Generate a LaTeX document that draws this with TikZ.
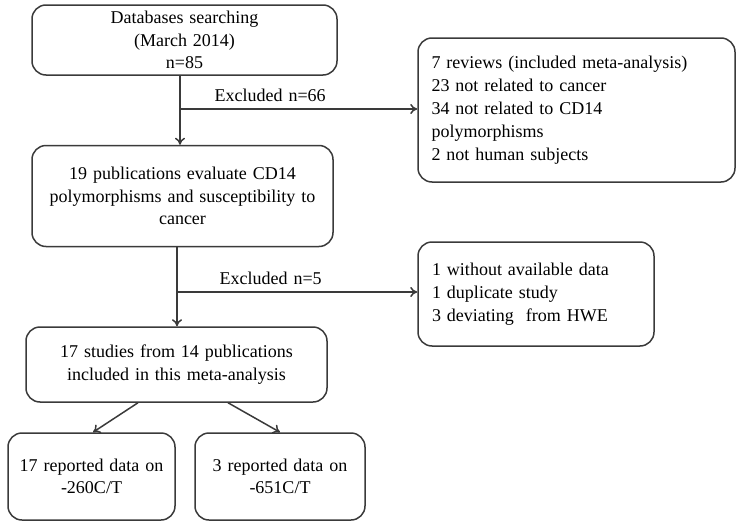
\documentclass[tikz,border=0pt]{standalone}
\usepackage{fontspec}
\setmainfont{Liberation Serif}
\usetikzlibrary{arrows.meta}
\definecolor{linegray}{HTML}{3A3A3A}
\newcommand\flowfont[1]{\fontsize{18}{#1}\selectfont\spaceskip=0.33em plus 0.1em\relax}
\begin{document}
\begin{tikzpicture}[
    x=1pt, y=-1pt,
    node/.style={%
      draw=linegray,
      line width=1.5pt,
      rectangle,
      rounded corners=14pt,
      align=center,
      inner sep=0pt,
      font=\flowfont{22.5},
    },
    list/.style={%
      node,
      align=left,
      font=\flowfont{23},
    },
    flow/.style={%
      draw=linegray,
      line width=1.5pt,
      -{To[length=7pt,width=10pt]},
    },
    lbl/.style={%
      font=\flowfont{22},
      inner sep=0pt,
    },
  ]
    \useasboundingbox (0,0) rectangle (740,525);
    \node [node, minimum width=305pt, minimum height=70pt] (search) at (184.5,40)
      {Databases searching\\(March 2014)\\n=85};
    \path (search) ++(-2,156) node [node, minimum width=301pt, minimum height=101pt] (pubs)
      {19 publications evaluate CD14\\polymorphisms and susceptibility to\\cancer};
    \path (search) ++(392,70) node [list, minimum width=317pt, minimum height=144pt,
      text width=290pt] (exclA)
      {7 reviews (included meta-analysis)\\23 not related to cancer\\34 not related to CD14\\polymorphisms\\2 not human subjects};
    \path (pubs) ++(353.5,98) node [list, minimum width=236pt, minimum height=104pt,
      text width=208pt] (exclB)
      {1 without available data\\1 duplicate study\\3 deviating \ from HWE};
    \path (pubs) ++(-6,168.5) node [node, minimum width=301pt, minimum height=75pt] (meta)
      {17 studies from 14 publications\\included in this meta-analysis};
    \path (meta) ++(-85,112) node [node, minimum width=167pt, minimum height=87pt] (snpA)
      {17 reported data on\\-260C/T};
    \path (meta) ++(103.5,112) node [node, minimum width=170pt, minimum height=87pt] (snpB)
      {3 reported data on\\-651C/T};
    % split points of the two exclusion steps
    \coordinate (splitA) at (180,109);
    \coordinate (splitB) at (177,292);
    \draw [flow] (search.south -| splitA) -- (pubs.north -| splitA);
    \draw [flow] (splitA) -- (exclA.west |- splitA) node [lbl, above=7pt, pos=0.38] {Excluded n=66};
    \draw [flow] (pubs.south -| splitB) -- (meta.north -| splitB);
    \draw [flow] (splitB) -- (exclB.west |- splitB) node [lbl, above=7pt, pos=0.39] {Excluded n=5};
    \draw [flow] ([xshift=-38.5pt]meta.south) -- ([xshift=1.5pt]snpA.north);
    \draw [flow] ([xshift=51.5pt]meta.south) -- (snpB.north);
\end{tikzpicture}
\end{document}
